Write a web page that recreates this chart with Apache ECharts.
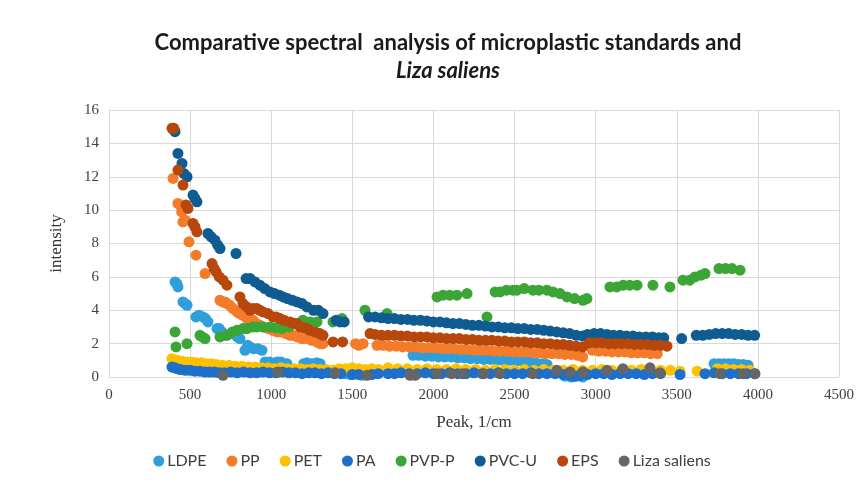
<!DOCTYPE html>
<html><head><meta charset="utf-8">
<script src="https://cdn.jsdelivr.net/npm/echarts@6/dist/echarts.min.js"></script>
<style>html,body{margin:0;padding:0;background:#fff}#c{width:864px;height:484px}</style>
</head><body><div id="c"></div>
<script>
const seriesNames = ['LDPE','PP','PET','PA','PVP-P','PVC-U','EPS','Liza saliens'];
const xTicks = [0,500,1000,1500,2000,2500,3000,3500,4000,4500];
const yTicks = [0,2,4,6,8,10,12,14,16];

const LDPE = [[407,5.7],[418,5.6],[425,5.4],[456,4.5],[470,4.4],[481,4.3],[536,3.6],[555,3.7],[579,3.6],[595,3.5],[610,3.3],[666,2.9],[680,2.9],[696,2.7],[720,2.5],[764,2.6],[790,2.4],[807,2.3],[838,1.6],[855,1.9],[869,1.8],[890,1.7],[918,1.7],[943,1.6],[962,0.9],[990,0.9],[1036,0.9],[1060,0.9],[1097,0.8],[1200,0.8],[1220,0.85],[1250,0.8],[1280,0.85],[1301,0.8],
[1460,0.2],[1490,0.15],[1520,0.2],[1560,0.1],
[1874,1.3],[1910,1.3],[1950,1.25],[1990,1.25],[2030,1.2],[2070,1.2],[2110,1.2],[2150,1.15],[2190,1.15],[2230,1.1],[2270,1.1],[2310,1.05],[2350,1.05],[2390,1.0],[2430,1.0],[2470,1.0],[2510,0.95],[2550,0.95],[2590,0.9],[2630,0.85],[2670,0.8],[2700,0.75],
[2810,0.05],[2850,0.0],[2880,0.05],[2920,0.0],
[3730,0.8],[3760,0.8],[3790,0.8],[3820,0.8],[3850,0.8],[3880,0.75],[3910,0.75],[3940,0.7]];

const PP = [[395,11.9],[425,10.4],[438,10.3],[448,9.9],[456,9.3],[470,9.4],[493,8.1],[536,7.3],[592,6.2],[684,4.6],[700,4.5],[715,4.5],[727,4.4],[745,4.3],[764,4.1],[789,3.9],[805,3.8],[826,3.7],[851,3.5],[870,3.4],[888,3.4],[910,3.2],[931,3.1],[949,3.0],[980,2.9],[1010,2.8],[1036,2.7],[1060,2.7],[1090,2.6],[1116,2.5],[1134,2.5],[1160,2.4],[1190,2.3],[1220,2.3],[1250,2.2],[1280,2.1],[1301,2.0],[1319,2.0],[1520,2.0],[1540,1.9],[1566,2.0],
[1652,1.9],[1690,1.9],[1730,1.85],[1770,1.85],[1810,1.8],[1850,1.8],[1890,1.8],[1930,1.75],[1970,1.75],[2010,1.75],[2050,1.7],[2090,1.7],[2130,1.7],[2170,1.65],[2210,1.65],[2250,1.6],[2290,1.6],[2330,1.6],[2370,1.55],[2410,1.55],[2450,1.55],[2490,1.5],[2530,1.5],[2570,1.5],[2610,1.45],[2650,1.45],[2690,1.4],[2730,1.4],[2770,1.4],[2810,1.35],[2850,1.35],[2890,1.3],[2920,1.2],[2980,1.6],[3020,1.55],[3060,1.55],[3100,1.5],[3140,1.5],[3180,1.5],[3220,1.45],[3260,1.45],[3300,1.45],[3340,1.4],[3380,1.4]];

const PET = [[388,1.1],[400,1.05],[420,1.0],[450,0.95],[480,0.9],[510,0.9],[540,0.85],[570,0.85],[600,0.8],[630,0.8],[660,0.75],[700,0.7],[740,0.7],[780,0.65],[820,0.65],[860,0.6],[900,0.6],[940,0.55],[980,0.55],[1020,0.5],[1060,0.55],[1100,0.5],[1140,0.5],[1180,0.5],[1220,0.45],[1260,0.5],[1300,0.45],[1340,0.45],[1380,0.4],[1420,0.5],[1460,0.5],[1500,0.55],[1540,0.5],[1580,0.45],[1620,0.5],[1660,0.45],[1720,0.55],[1780,0.5],[1840,0.5],[1900,0.45],[1960,0.5],[2020,0.45],[2080,0.45],[2140,0.5],[2200,0.45],[2260,0.45],[2320,0.4],[2380,0.45],[2440,0.45],[2500,0.4],[2560,0.45],[2620,0.4],[2680,0.45],[2740,0.4],[2800,0.4],[2860,0.45],[2920,0.4],[2980,0.4],[3040,0.45],[3100,0.4],[3160,0.4],[3220,0.4],[3280,0.45],[3340,0.4],[3400,0.4],[3460,0.4],[3520,0.35],[3626,0.35],[3750,0.5],[3800,0.5],[3850,0.45],[3900,0.45],[3950,0.4]];

const PA = [[388,0.6],[405,0.55],[420,0.5],[440,0.45],[470,0.4],[500,0.4],[530,0.35],[560,0.35],[590,0.3],[620,0.3],[650,0.3],[680,0.25],[710,0.25],[750,0.3],[790,0.25],[830,0.3],[870,0.25],[910,0.25],[950,0.3],[990,0.25],[1030,0.25],[1070,0.3],[1110,0.25],[1150,0.25],[1190,0.2],[1230,0.25],[1270,0.25],[1310,0.2],[1350,0.25],[1390,0.2],[1430,0.2],[1500,0.15],[1540,0.15],[1620,0.15],[1660,0.2],[1720,0.2],[1760,0.2],[1800,0.25],[1850,0.2],[1900,0.2],[1950,0.25],[2000,0.2],[2050,0.2],[2100,0.25],[2150,0.2],[2200,0.2],[2250,0.25],[2300,0.2],[2350,0.2],[2400,0.25],[2450,0.2],[2500,0.2],[2550,0.2],[2600,0.25],[2650,0.2],[2700,0.2],[2750,0.2],[2800,0.15],[2840,0.1],[2870,0.05],[2900,0.1],[2950,0.15],[3000,0.2],[3050,0.2],[3100,0.15],[3150,0.2],[3200,0.2],[3250,0.2],[3300,0.15],[3350,0.2],[3400,0.2],[3520,0.15],[3674,0.2],[3730,0.25],[3780,0.2],[3830,0.2],[3880,0.2],[3930,0.2],[3980,0.2]];

const PVPP = [[407,2.7],[413,1.8],[481,2.0],[561,2.5],[575,2.4],[592,2.3],[684,2.4],[727,2.5],[760,2.7],[789,2.8],[826,2.9],[851,2.9],[888,3.0],[912,3.0],[950,3.0],[992,3.0],[1030,2.95],[1066,2.9],[1110,3.0],[1159,3.2],[1196,3.4],[1240,3.3],[1282,3.3],[1381,3.3],[1436,3.5],[1578,4.0],[1714,3.8],[2022,4.8],[2059,4.9],[2100,4.9],[2145,4.9],[2207,5.0],[2330,3.6],[2380,5.1],[2410,5.1],[2450,5.2],[2490,5.2],[2515,5.2],[2560,5.3],[2613,5.2],[2650,5.2],[2700,5.2],[2737,5.1],[2780,5.0],[2823,4.8],[2870,4.7],[2922,4.6],[2946,4.7],[3088,5.4],[3130,5.4],[3170,5.5],[3210,5.5],[3255,5.5],[3353,5.5],[3458,5.4],[3538,5.8],[3580,5.8],[3612,6.0],[3650,6.1],[3674,6.2],[3760,6.5],[3800,6.5],[3840,6.5],[3890,6.4]];

const PVCU = [[407,14.7],[425,13.4],[450,12.8],[462,12.2],[481,12.0],[518,10.9],[530,10.7],[542,10.5],[610,8.6],[630,8.4],[653,8.2],[670,7.9],[684,7.7],[783,7.4],[845,5.9],[870,5.9],[900,5.7],[930,5.5],[960,5.3],[992,5.1],[1020,5.0],[1050,4.9],[1073,4.8],[1100,4.7],[1130,4.6],[1159,4.5],[1190,4.4],[1220,4.2],[1260,4.0],[1290,4.0],[1319,3.8],[1400,3.4],[1424,3.3],[1450,3.3],
[1600,3.6],[1640,3.6],[1680,3.55],[1720,3.5],[1760,3.5],[1800,3.45],[1840,3.45],[1880,3.4],[1920,3.4],[1960,3.35],[2000,3.3],[2040,3.3],[2080,3.25],[2120,3.2],[2160,3.2],[2200,3.15],[2240,3.1],[2280,3.1],[2320,3.05],[2360,3.0],[2400,3.0],[2440,2.95],[2480,2.95],[2520,2.9],[2560,2.9],[2600,2.85],[2640,2.85],[2680,2.8],[2720,2.75],[2760,2.7],[2800,2.65],[2840,2.6],[2880,2.5],[2920,2.45],[2950,2.55],[2990,2.6],[3030,2.6],[3070,2.55],[3110,2.5],[3150,2.5],[3190,2.45],[3230,2.45],[3270,2.4],[3310,2.4],[3350,2.4],[3390,2.35],[3420,2.35],[3530,2.3],[3620,2.5],[3660,2.5],[3700,2.55],[3740,2.6],[3780,2.6],[3820,2.6],[3860,2.55],[3900,2.55],[3940,2.5],[3980,2.5]];

const EPS = [[388,14.9],[400,14.9],[425,12.4],[456,11.5],[475,10.3],[487,10.1],[518,9.2],[530,9.0],[542,8.7],[635,6.8],[648,6.5],[660,6.3],[680,6.0],[703,5.8],[727,5.5],[807,4.8],[826,4.4],[850,4.2],[869,4.0],[890,4.1],[912,4.1],[930,4.0],[949,3.9],[980,3.8],[1011,3.6],[1030,3.6],[1054,3.5],[1080,3.4],[1116,3.3],[1140,3.2],[1160,3.2],[1177,3.0],[1200,2.95],[1220,2.9],[1239,2.8],[1270,2.7],[1300,2.6],[1319,2.5],[1381,2.1],[1440,2.1],
[1609,2.6],[1640,2.55],[1680,2.5],[1720,2.5],[1760,2.5],[1800,2.45],[1840,2.45],[1880,2.4],[1920,2.4],[1960,2.4],[2000,2.35],[2040,2.35],[2080,2.3],[2120,2.3],[2160,2.3],[2200,2.25],[2240,2.25],[2280,2.2],[2320,2.2],[2360,2.2],[2400,2.15],[2440,2.15],[2480,2.1],[2520,2.1],[2560,2.1],[2600,2.05],[2640,2.05],[2680,2.0],[2720,2.0],[2760,1.95],[2800,1.95],[2840,1.9],[2880,1.85],[2920,1.8],[2960,2.05],[3000,2.05],[3040,2.05],[3080,2.0],[3120,2.0],[3160,2.0],[3200,2.0],[3240,1.95],[3280,1.95],[3320,1.95],[3360,1.9],[3400,1.9],[3440,1.85]];

const LIZA = [[703,0.1],[1042,0.3],[1393,0.25],[1590,0.1],[1856,0.1],[1886,0.1],[2022,0.2],[2112,0.2],[2180,0.2],[2310,0.2],[2410,0.2],[2613,0.2],[2761,0.4],[2842,0.3],[2922,0.3],[3070,0.4],[3168,0.5],[3335,0.55],[3396,0.25],[3766,0.2],[3908,0.2],[3982,0.2]];

const seriesData = [LDPE, PP, PET, PA, PVPP, PVCU, EPS, LIZA];
const colors = ['#2E9FDA','#F47B2A','#FFC000','#1E6FCC','#3BA535','#0E5C92','#B8470B','#666666'];

const chart = echarts.init(document.getElementById('c'), null, {renderer:'canvas'});
chart.setOption({
  animation:false,
  backgroundColor:'#fff',
  title:{
    left:443, textAlign:'center', top:24,
    text:'{a|Comparative spectral  analysis of microplastic standards and}\n{b|Liza saliens}',
    textStyle:{
      rich:{
        a:{fontFamily:'Lato',fontWeight:'bold',fontSize:22,color:'#1a1a1a',lineHeight:28},
        b:{fontFamily:'Lato',fontWeight:'bold',fontStyle:'italic',fontSize:22,color:'#1a1a1a',lineHeight:28}
      }
    }
  },
  grid:{left:109,right:25,top:110,bottom:107},
  xAxis:{
    type:'value', min:0, max:4500, interval:500,
    name:'Peak, 1/cm', nameLocation:'middle', nameGap:37,
    nameTextStyle:{fontFamily:'Liberation Serif',fontSize:17,color:'#333'},
    axisLine:{lineStyle:{color:'#d9d9d9'}},
    axisTick:{show:false},
    splitLine:{show:true,lineStyle:{color:'#d9d9d9',width:1}},
    axisLabel:{fontFamily:'Liberation Serif',fontSize:15,color:'#404040',margin:11,
      formatter:v=>xTicks.includes(v)?String(v):''}
  },
  yAxis:{
    type:'value', min:0, max:16, interval:2,
    name:'intensity', nameLocation:'middle', nameGap:44, nameRotate:90,
    nameTextStyle:{fontFamily:'Liberation Serif',fontSize:17,color:'#333'},
    axisLine:{show:true,lineStyle:{color:'#d9d9d9'}},
    axisTick:{show:false},
    splitLine:{show:true,lineStyle:{color:'#d9d9d9',width:1}},
    axisLabel:{fontFamily:'Liberation Serif',fontSize:15,color:'#404040',margin:10,
      formatter:v=>yTicks.includes(v)?String(v):''}
  },
  legend:{
    bottom:10, left:'center', icon:'circle', itemWidth:11, itemHeight:11, itemGap:20,
    textStyle:{fontFamily:'Lato',fontSize:16,color:'#404040',padding:[0,0,0,-2]},
    data:seriesNames
  },
  series: seriesNames.map((n,i)=>({
    name:n, type:'scatter', symbol:'circle', symbolSize:11,
    itemStyle:{color:colors[i],opacity:1},
    data:seriesData[i]
  }))
});
</script></body></html>
